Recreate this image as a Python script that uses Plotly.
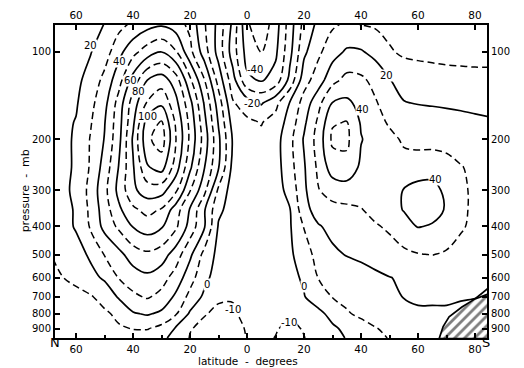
import math
import plotly.graph_objects as go

# latitude: negative = North, positive = South
latitudes = [-68, -60, -55, -50, -45, -40, -35, -30, -25, -20, -15, -10, -5, 0, 5, 10, 15,
             20, 25, 30, 35, 40, 45, 50, 55, 60, 65, 70, 75, 80, 85]
pressures = [79, 100, 125, 150, 175, 200, 250, 300, 350, 400, 500, 600, 700, 800, 900, 970]

u_79 = [14, 16, 18, 20, 26, 31, 35, 37, 34, 27, 11, -3, -22, -49, -57, -45, -25, -7, 2, 8, 10.5, 9, 8, 7, 6, 5.5, 5, 5, 4.5, 4, 4]
u_100 = [15, 17, 19.5, 25, 37, 47, 55, 60, 51, 33, 15, -4, -25, -44, -50.5, -42, -23, -2, 8, 16, 21.5, 21, 17, 11, 8.5, 8, 7.5, 7, 7, 6.5, 6.5]
u_125 = [15, 18, 23, 33, 46, 64, 80, 85, 75, 52, 30.5, 6, -16, -38, -41, -36, -17, 6, 15, 27, 33, 32, 27, 20.5, 16, 14.5, 14, 13.5, 13, 13, 13]
u_150 = [15.5, 19, 27, 37, 54, 75, 91, 98, 83, 63, 39, 15, -9, -15, -21, -13, 0.5, 14, 27, 40.5, 42, 37, 31, 25, 20.5, 19.5, 19, 18.5, 18, 17.5, 17.5]
u_175 = [16, 20.5, 29, 39.5, 56, 78, 105, 111, 88.5, 67, 43, 19, -4, -8, -10.5, -6, 4, 18, 32, 49, 50.5, 39, 33, 29, 27, 26, 25, 24, 23, 22, 21]
u_200 = [16, 21, 30.5, 40.5, 57, 81.5, 108, 115, 90.5, 68, 45.5, 22, -1, -7, -8, -4, 7, 21, 34, 52, 52, 40.5, 36, 32, 29, 27.5, 26.5, 26, 25.5, 25, 24]
u_250 = [16, 21, 31, 44, 60.5, 79, 99, 104, 85, 62, 40.5, 20.5, -3, -6, -6, -4, 6, 19, 32, 45, 47, 38, 35, 33, 32.5, 34, 36, 34, 30.5, 28, 26]
u_300 = [15, 22, 33, 47, 63, 78, 85, 84, 72, 50.5, 33, 8, -5, -5, -5, -4, 3, 18, 29.5, 34, 35, 34, 33, 35, 40.5, 44, 43, 38, 32, 28, 26]
u_350 = [14, 21, 32, 45, 58, 68, 73, 69, 55, 39, 21, 2, -4, -4, -4, -3, -0.5, 16, 25, 27, 28, 29.5, 33, 36, 40.5, 45, 44, 39, 32, 28, 26]
u_400 = [13, 21, 31, 43, 52, 60.5, 65, 61, 52, 36, 21, -1, -4, -4, -4, -3, -1, 10.5, 19, 23, 25, 27, 29, 31.5, 36, 40.5, 39, 35, 31, 28, 26]
u_500 = [10.5, 16, 21.5, 30.5, 37, 45, 48, 45, 35, 22, 7, -3, -5, -5, -4, -3, -2, 6, 13, 18, 20.5, 22, 24, 26, 28, 29.5, 30.2, 29, 27, 26, 25]
u_600 = [8, 12.5, 17, 21.5, 30.5, 35, 38, 34, 26, 14, 3, -5, -7, -6, -5, -4, -3, 1.5, 10.3, 12, 14, 16, 18, 19.8, 21, 22, 23, 22.5, 22, 21.5, 21]
u_700 = [5.5, 7, 9, 13.5, 21, 28, 31, 27, 18, 7, -2, -9, -9.5, -7, -5, -4, -3, -0.5, 5, 10.3, 12.5, 14, 16, 18, 20.2, 21, 21, 21, 20.5, 20.2, 19]
u_800 = [4, 5, 7, 8.5, 12, 19, 21, 18, 11, -1.5, -9.5, -11.5, -11, -8, -7, -8, -9, -7, -2.5, 3, 9, 12, 14, 16, 18.5, 19, 19, 19, 18.5, 18, 18]
u_900 = [2, 3.5, 5, 6.5, 9, 10.3, 10.5, 7, -1, -9.5, -12, -13, -12, -9.5, -8, -9.5, -11.5, -9.5, -5, -1.5, 2, 6, 9.5, 12, 14, 15, 16, 16.5, 17, 17, 17]
u_970 = [1, 2.5, 3.5, 4.5, 5.5, 6.5, 6, 2, -3, -10.5, -13, -13.5, -12, -9.8, -8.5, -10.2, -12, -10.2, -7, -3, 0.5, 4, 7.5, 10.5, 13, 14, 15, 16, 16, 16, 16]

wind = [u_79, u_100, u_125, u_150, u_175, u_200, u_250, u_300, u_350, u_400,
        u_500, u_600, u_700, u_800, u_900, u_970]

# terrain (hatched) outline
terrain_lat = [67.4, 68.8, 70.9, 75.4, 80, 85, 85, 67.4]
terrain_p = [975, 886, 820, 758, 711, 682, 975, 975]

lat_ticks = [-60, -40, -20, 0, 20, 40, 60, 80]
lat_ticktext = ["60", "40", "20", "0", "20", "40", "60", "80"]
p_ticks = [100, 200, 300, 400, 500, 600, 700, 800, 900]
p_ticktext = ["100", "200", "300", "400", "500", "600", "700", "800", "900"]

# contour labels: (text, latitude, pressure)
label_text = ["20", "40", "60", "80", "100", "-40", "-20", "20", "40", "40", "0", "0", "-10", "-10"]
label_lat = [-55.1, -44.6, -41, -38.2, -35.1, 2.8, 1.8, 49.1, 40.4, 66, -14, 20, -4.9, 14.7]
label_p = [94.6, 108, 125, 137, 167, 115, 150, 121, 158, 276, 632, 645, 775, 860]

FONT = "DejaVu Sans"

fig = go.Figure()
fig.add_trace(go.Contour(
    x=latitudes, y=pressures, z=wind, showscale=False, hoverinfo="skip",
    contours=dict(coloring="none", start=-40, end=100, size=20),
    line=dict(color="black", width=1.7, smoothing=1.0),
))
fig.add_trace(go.Contour(
    x=latitudes, y=pressures, z=wind, showscale=False, hoverinfo="skip",
    contours=dict(coloring="none", start=-50, end=110, size=20),
    line=dict(color="black", width=1.5, dash="7px,4px", smoothing=1.0),
))
fig.add_trace(go.Scatter(
    x=terrain_lat, y=terrain_p, mode="lines", fill="toself", fillcolor="white",
    fillpattern=dict(shape="/", fgcolor="black", bgcolor="white", size=7, solidity=0.4),
    line=dict(color="black", width=1.7), hoverinfo="skip",
))
fig.add_trace(go.Scatter(x=[], y=[], xaxis="x2", yaxis="y2", showlegend=False))

yr = [math.log10(970), math.log10(80.7)]
common_x = dict(range=[-67.4, 84.2], tickmode="array", tickvals=lat_ticks, ticktext=lat_ticktext,
                ticks="inside", ticklen=5, tickwidth=1.5, tickcolor="black", automargin=False,
                showline=True, linewidth=2, linecolor="black", showgrid=False, zeroline=False,
                tickfont=dict(family=FONT, size=10.5, color="black"))
common_y = dict(type="log", range=yr, tickmode="array", tickvals=p_ticks, ticktext=p_ticktext,
                ticks="inside", ticklen=5, tickwidth=1.5, tickcolor="black", automargin=False,
                showline=True, linewidth=2, linecolor="black", showgrid=False, zeroline=False,
                tickfont=dict(family=FONT, size=10, color="black"))

annotations = []
for t, la, p in zip(label_text, label_lat, label_p):
    annotations.append(dict(x=la, y=math.log10(p), xref="x", yref="y", text=t, showarrow=False,
                            font=dict(family=FONT, size=10, color="black"),
                            bgcolor="white", borderpad=0))
annotations += [
    dict(x=0.447, y=-0.075, xref="paper", yref="paper", text="latitude  -  degrees",
         showarrow=False, yanchor="middle", font=dict(family=FONT, size=10.5, color="black")),
    dict(x=-0.088, y=0.47, xref="paper", yref="paper", text="pressure  -  mb", textangle=-90,
         showarrow=False, font=dict(family=FONT, size=11, color="black")),
    dict(x=-0.016, y=-0.045, xref="paper", yref="paper", text="N", showarrow=False,
         font=dict(family=FONT, size=13, color="black")),
    dict(x=1.012, y=-0.045, xref="paper", yref="paper", text="S", showarrow=False,
         font=dict(family=FONT, size=13, color="black")),
]

# page body has an 8px default margin, so the figure is sized to fit the window
fig.update_layout(
    width=516, height=360,
    margin=dict(l=47, r=37, t=17, b=30, autoexpand=False),
    paper_bgcolor="white", plot_bgcolor="white",
    showlegend=False,
    font=dict(family=FONT, size=10, color="black"),
    xaxis=dict(**common_x, side="bottom",
               minor=dict(ticks="inside", ticklen=3, dtick=10, tick0=0, tickcolor="black")),
    xaxis2=dict(**common_x, side="top", overlaying="x", anchor="y"),
    yaxis=dict(**common_y, side="left"),
    yaxis2=dict(**common_y, side="right", overlaying="y", anchor="x"),
    annotations=annotations,
)

fig.write_html("out.html")
